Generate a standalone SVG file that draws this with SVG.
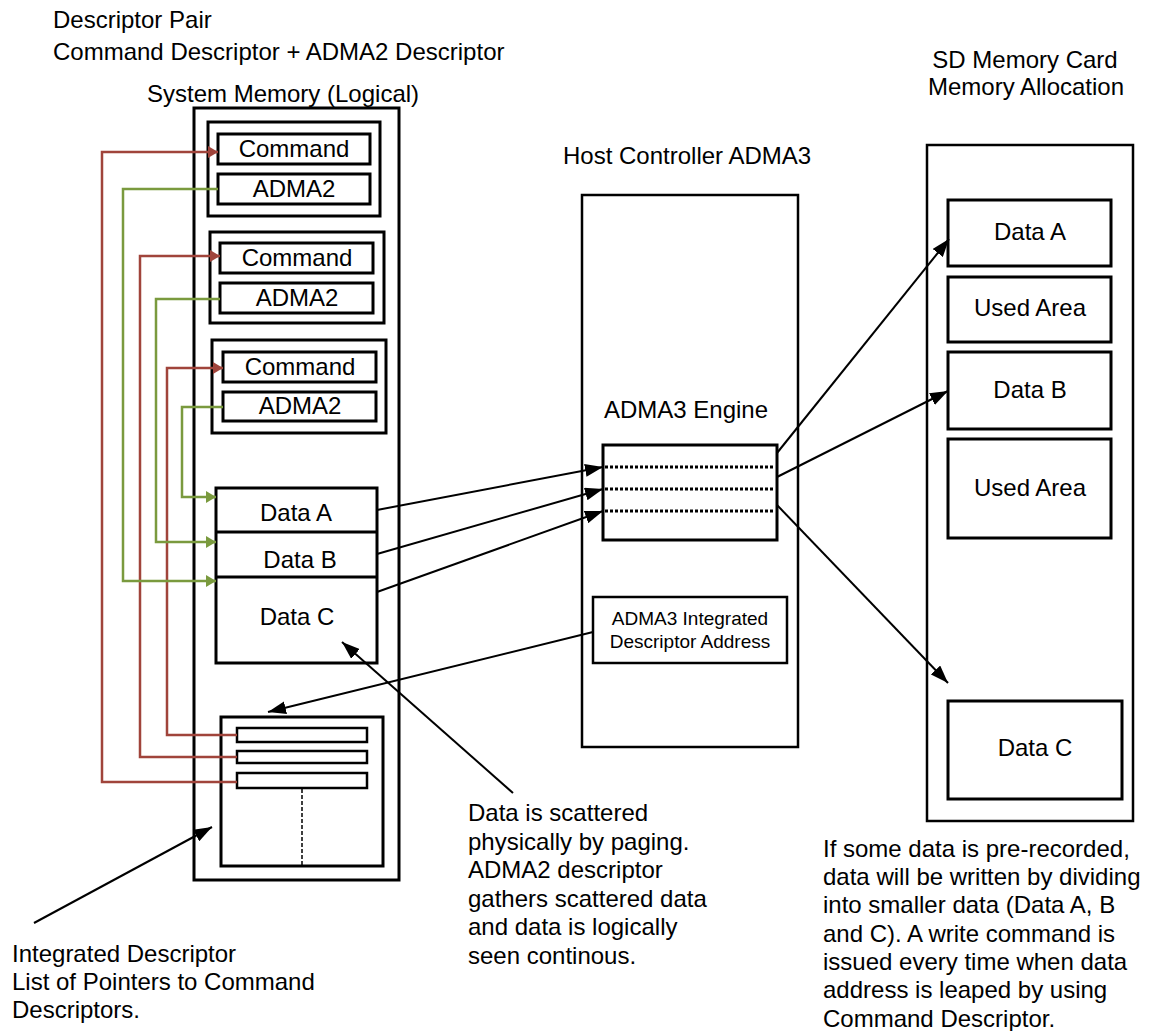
<svg xmlns="http://www.w3.org/2000/svg" width="1154" height="1031" viewBox="0 0 1154 1031">
<style>
text{font-family:"Liberation Sans",Arial,sans-serif;font-size:24px;fill:#000}
.c{text-anchor:middle}
.sm{font-size:19px}
.b3{fill:#fff;stroke:#000;stroke-width:3}
.b2{fill:#fff;stroke:#000;stroke-width:2.5}
.ar{fill:none;stroke:#000;stroke-width:2}
.red{fill:none;stroke:#A0443B;stroke-width:2.5}
.grn{fill:none;stroke:#7A9A3E;stroke-width:2.5}
.dot{fill:none;stroke:#000;stroke-width:3;stroke-dasharray:3 2}
</style>
<defs>
<marker id="ab" markerUnits="userSpaceOnUse" markerWidth="19" markerHeight="13" refX="18" refY="6.5" orient="auto"><path d="M0,0 L18,6.5 L0,13 z" fill="#000"/></marker>
<marker id="ar" markerUnits="userSpaceOnUse" markerWidth="11" markerHeight="12" refX="10" refY="6" orient="auto"><path d="M0,0 L10,6 L0,12 z" fill="#A0443B"/></marker>
<marker id="ag" markerUnits="userSpaceOnUse" markerWidth="11" markerHeight="12" refX="10" refY="6" orient="auto"><path d="M0,0 L10,6 L0,12 z" fill="#7A9A3E"/></marker>
</defs>
<rect width="1154" height="1031" fill="#fff"/>

<g id="titles">
<text x="53" y="28">Descriptor Pair</text>
<text x="53" y="60">Command Descriptor + ADMA2 Descriptor</text>
<text x="147" y="102">System Memory (Logical)</text>
<text x="563" y="164">Host Controller ADMA3</text>
<text x="1025" y="68" class="c">SD Memory Card</text>
<text x="1026" y="95" class="c">Memory Allocation</text>
</g>

<g id="system-memory">
<rect x="194" y="108" width="205" height="772" class="b3"/>
</g>
<g id="pair1">
<rect x="208" y="122" width="172" height="94" class="b3"/>
<rect x="218" y="134" width="152" height="30" class="b3"/>
<text x="294" y="157" class="c">Command</text>
<rect x="218" y="174" width="152" height="30" class="b3"/>
<text x="294" y="197" class="c">ADMA2</text>
</g>
<g id="pair2">
<rect x="210" y="232" width="174" height="91" class="b3"/>
<rect x="220" y="243" width="153" height="30" class="b3"/>
<text x="297" y="266" class="c">Command</text>
<rect x="220" y="283" width="153" height="30" class="b3"/>
<text x="297" y="306" class="c">ADMA2</text>
</g>
<g id="pair3">
<rect x="212" y="340" width="174" height="93" class="b3"/>
<rect x="223" y="352" width="153" height="30" class="b3"/>
<text x="300" y="375" class="c">Command</text>
<rect x="223" y="392" width="153" height="29" class="b3"/>
<text x="300" y="414" class="c">ADMA2</text>
</g>
<g id="sys-data">
<rect x="216" y="488" width="161" height="175" class="b3"/>
<line x1="216" y1="532" x2="377" y2="532" stroke="#000" stroke-width="3"/>
<line x1="216" y1="577" x2="377" y2="577" stroke="#000" stroke-width="3"/>
<text x="296" y="521" class="c">Data A</text>
<text x="300" y="568" class="c">Data B</text>
<text x="297" y="625" class="c">Data C</text>
</g>
<g id="integrated-list">
<rect x="221" y="717" width="162" height="149" class="b3"/>
<rect x="237" y="728" width="130" height="14" class="b2"/>
<rect x="237" y="751" width="130" height="12" class="b2"/>
<rect x="237" y="773" width="130" height="15" class="b2"/>
<line x1="302" y1="789" x2="302" y2="865" stroke="#000" stroke-width="1.5" stroke-dasharray="4 2"/>
</g>

<g id="host-controller">
<rect x="582" y="195" width="216" height="552" class="b2" stroke-width="2"/>
<text x="686" y="418" class="c">ADMA3 Engine</text>
</g>
<g id="adma3-engine">
<rect x="603" y="445" width="174" height="95" class="b3"/>
<line x1="605" y1="467" x2="775" y2="467" class="dot"/>
<line x1="605" y1="489" x2="775" y2="489" class="dot"/>
<line x1="605" y1="511" x2="775" y2="511" class="dot"/>
</g>
<g id="adma3-address">
<rect x="593" y="597" width="194" height="66" class="b2"/>
<text x="690" y="625" class="c sm">ADMA3 Integrated</text>
<text x="690" y="648" class="c sm">Descriptor Address</text>
</g>

<g id="sd-card">
<rect x="927" y="145" width="206" height="676" class="b2" stroke-width="2"/>
</g>
<g id="sd-data-a"><rect x="948" y="200" width="163" height="66" class="b3"/><text x="1030" y="240" class="c">Data A</text></g>
<g id="sd-used-1"><rect x="948" y="277" width="163" height="65" class="b3"/><text x="1030" y="316" class="c">Used Area</text></g>
<g id="sd-data-b"><rect x="948" y="352" width="163" height="77" class="b3"/><text x="1030" y="398" class="c">Data B</text></g>
<g id="sd-used-2"><rect x="948" y="439" width="163" height="99" class="b3"/><text x="1030" y="496" class="c">Used Area</text></g>
<g id="sd-data-c"><rect x="948" y="701" width="174" height="98" class="b3"/><text x="1035" y="756" class="c">Data C</text></g>

<g id="notes">
<text x="12" y="962">Integrated Descriptor</text>
<text x="12" y="990">List of Pointers to Command</text>
<text x="12" y="1018">Descriptors.</text>
<text x="468" y="821">Data is scattered</text>
<text x="468" y="850">physically by paging.</text>
<text x="468" y="878">ADMA2 descriptor</text>
<text x="468" y="907">gathers scattered data</text>
<text x="468" y="935">and data is logically</text>
<text x="468" y="964">seen continous.</text>
<text x="823" y="857">If some data is pre-recorded,</text>
<text x="823" y="885">data will be written by dividing</text>
<text x="823" y="913">into smaller data (Data A, B</text>
<text x="823" y="942">and C). A write command is</text>
<text x="823" y="970">issued every time when data</text>
<text x="823" y="998">address is leaped by using</text>
<text x="823" y="1027">Command Descriptor.</text>
</g>

<g id="connectors">
<path d="M237,782 H102 V152 H218" class="red" marker-end="url(#ar)"/>
<path d="M237,757 H140 V256 H220" class="red" marker-end="url(#ar)"/>
<path d="M237,735 H167 V368 H223" class="red" marker-end="url(#ar)"/>
<path d="M218,189 H123 V581 H216" class="grn" marker-end="url(#ag)"/>
<path d="M220,299 H156 V542 H216" class="grn" marker-end="url(#ag)"/>
<path d="M223,407 H182 V497 H216" class="grn" marker-end="url(#ag)"/>
<line x1="377" y1="510" x2="603" y2="467" class="ar" marker-end="url(#ab)"/>
<line x1="377" y1="554" x2="603" y2="489" class="ar" marker-end="url(#ab)"/>
<line x1="377" y1="592" x2="603" y2="511" class="ar" marker-end="url(#ab)"/>
<line x1="777" y1="453" x2="949" y2="239" class="ar" marker-end="url(#ab)"/>
<line x1="777" y1="477" x2="948" y2="391" class="ar" marker-end="url(#ab)"/>
<line x1="777" y1="505" x2="948" y2="683" class="ar" marker-end="url(#ab)"/>
<line x1="593" y1="632" x2="268" y2="712" class="ar" marker-end="url(#ab)"/>
<line x1="34" y1="923" x2="212" y2="827" class="ar" marker-end="url(#ab)"/>
<line x1="513" y1="793" x2="342" y2="642" class="ar" marker-end="url(#ab)"/>
</g>
</svg>
